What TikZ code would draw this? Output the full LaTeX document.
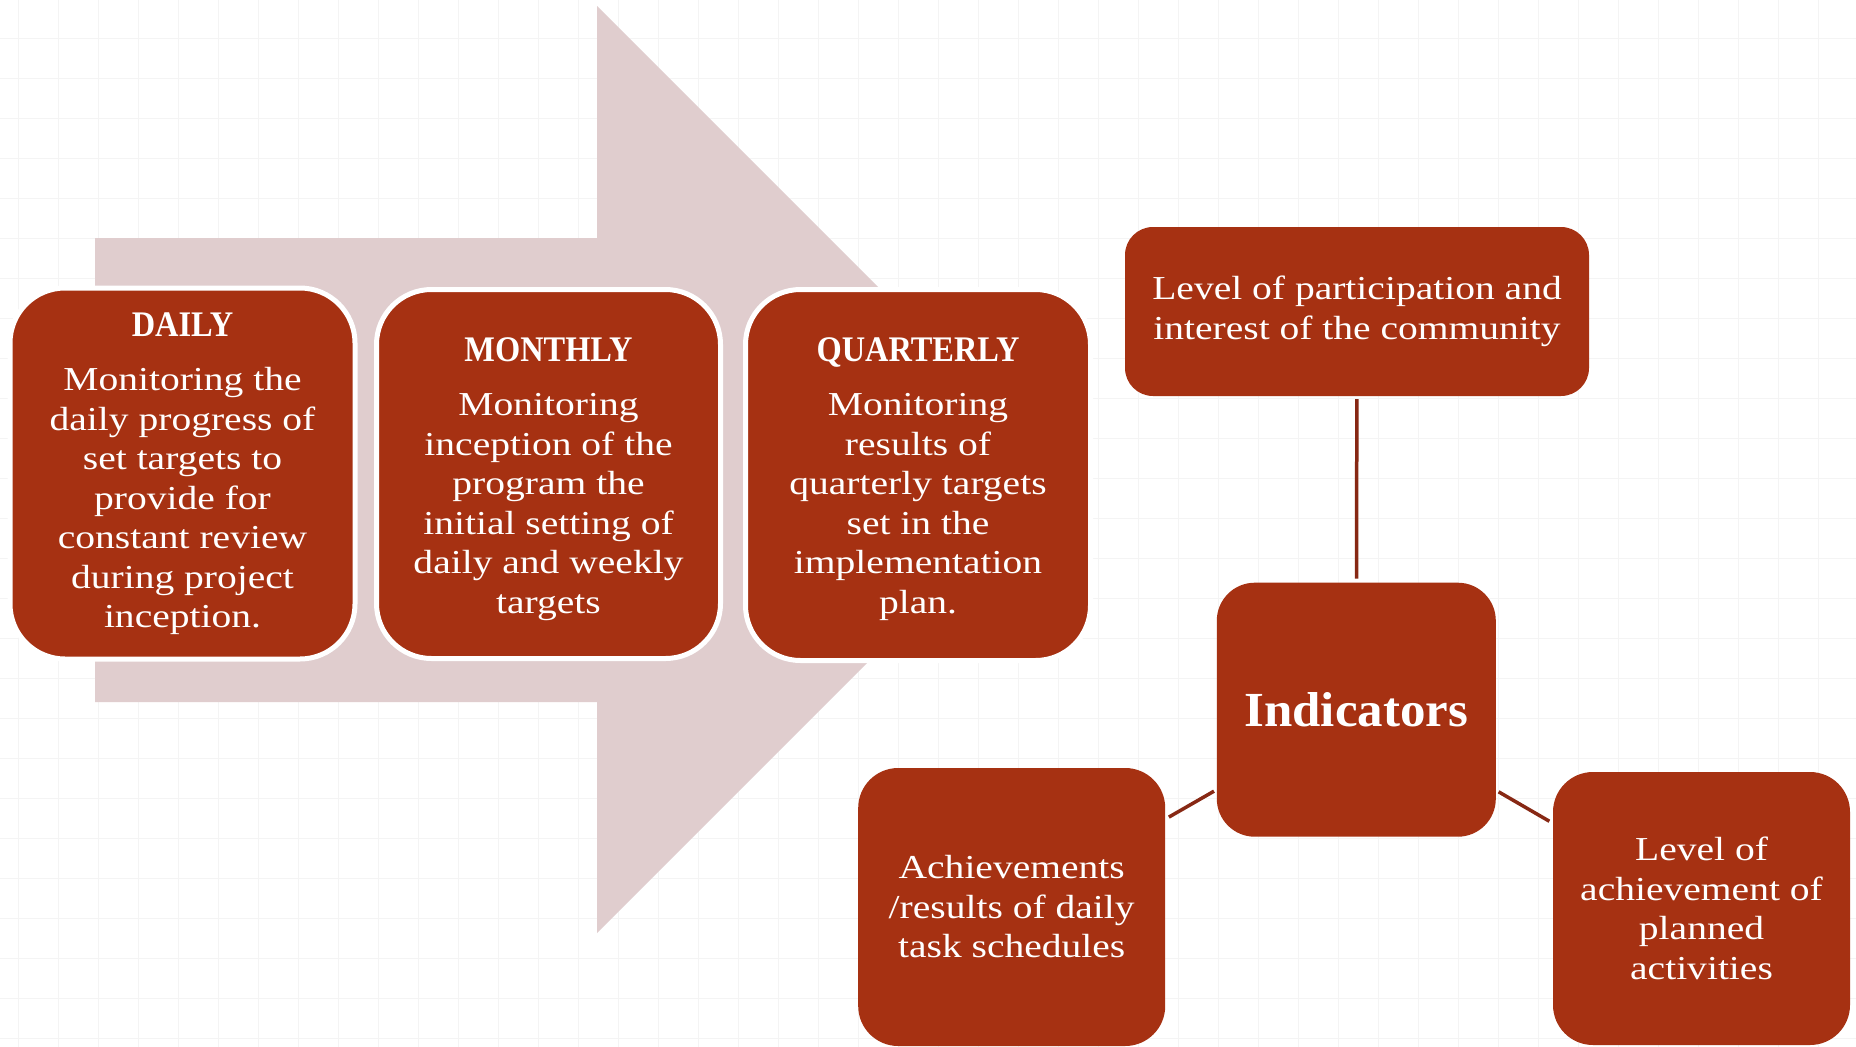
\documentclass[tikz,border=0pt]{standalone}
\usepackage{fontspec}
\setmainfont{Liberation Serif}[FakeStretch=1.18]
\newfontfamily\capsfont{Liberation Serif}[FakeStretch=0.9]
\newfontfamily\indfont{Liberation Serif}[FakeStretch=1.04]
\definecolor{boxred}{RGB}{166,49,18}
\definecolor{linkred}{RGB}{135,40,20}
\definecolor{arrowpink}{RGB}{224,205,206}
\definecolor{gridgray}{RGB}{244,244,244}
\begin{document}
\begin{tikzpicture}[x=1pt,y=-1pt,
	stagebox/.style={rounded corners=55pt, fill=boxred, draw=white, line width=5pt,
		text=white, align=center, inner sep=0pt,
		minimum width=345pt, minimum height=371pt,
		font=\fontsize{33.5}{39.5}\selectfont},
	factorbox/.style={rounded corners=40pt, fill=boxred, text=white, align=center,
		inner sep=0pt, font=\fontsize{33.5}{39.5}\selectfont},
	link/.style={draw=linkred, line width=3.5pt, shorten <=3pt, shorten >=4pt}]
	\useasboundingbox (0,0) rectangle (1856,1047);
	\fill[white] (0,0) rectangle (1856,1047);
	% faint grid of the slide
	\foreach \x in {18.4,58.4,...,1858}
		\draw[gridgray, line width=1.5pt] (\x,0) -- (\x,1047);
	\foreach \y in {38.3,78.3,...,1047}
		\draw[gridgray, line width=1.5pt] (0,\y) -- (1856,\y);
	% big arrow behind the stages
	\fill[arrowpink] (95,238) -- (597,238) -- (597,6) -- (1060.5,469.5)
		-- (597,933) -- (597,702) -- (95,702) -- cycle;
	\node[stagebox] (daily) at (182.5,473.5) {
		{\capsfont\bfseries\fontsize{36}{39.5}\selectfont DAILY}\\[15pt]
		Monitoring the\\ daily progress of\\ set targets to\\ provide for\\
		constant review\\ during project\\ inception.
	};
	\node[stagebox, minimum width=344pt, minimum height=369pt] (monthly) at (548.5,474) {
		\rule{0pt}{34pt}{\capsfont\bfseries\fontsize{36}{39.5}\selectfont MONTHLY}\\[15pt]
		Monitoring\\ inception of the\\ program the\\ initial setting of\\
		daily and weekly\\ targets
	};
	\node[stagebox] (quarterly) at (918,475) {
		\rule{0pt}{32pt}{\capsfont\bfseries\fontsize{36}{39.5}\selectfont QUARTERLY}\\[15pt]
		Monitoring\\ results of\\ quarterly targets\\ set in the\\
		implementation\\ plan.
	};
	% indicators
	\node[factorbox, rounded corners=28pt, minimum width=464pt, minimum height=169pt]
		(community) at (1357,311.5) {
		Level of participation and\\ interest of the community
	};
	\node[factorbox, rounded corners=38pt, minimum width=279pt, minimum height=254pt,
		font=\indfont\bfseries\fontsize{49}{55}\selectfont]
		(indicators) at (1356.3,709.7) {Indicators};
	\node[factorbox, minimum width=307pt, minimum height=278pt]
		(achieve) at (1011.7,907) {
		Achievements\\ /results of daily\\ task schedules
	};
	\node[factorbox, minimum width=297pt, minimum height=273pt]
		(planned) at (1701.5,908.5) {
		Level of\\ achievement of\\ planned\\ activities
	};
	\draw[link] (community) -- (indicators);
	\draw[link] (indicators) -- (achieve);
	\draw[link] (indicators) -- (planned);
\end{tikzpicture}
\end{document}
